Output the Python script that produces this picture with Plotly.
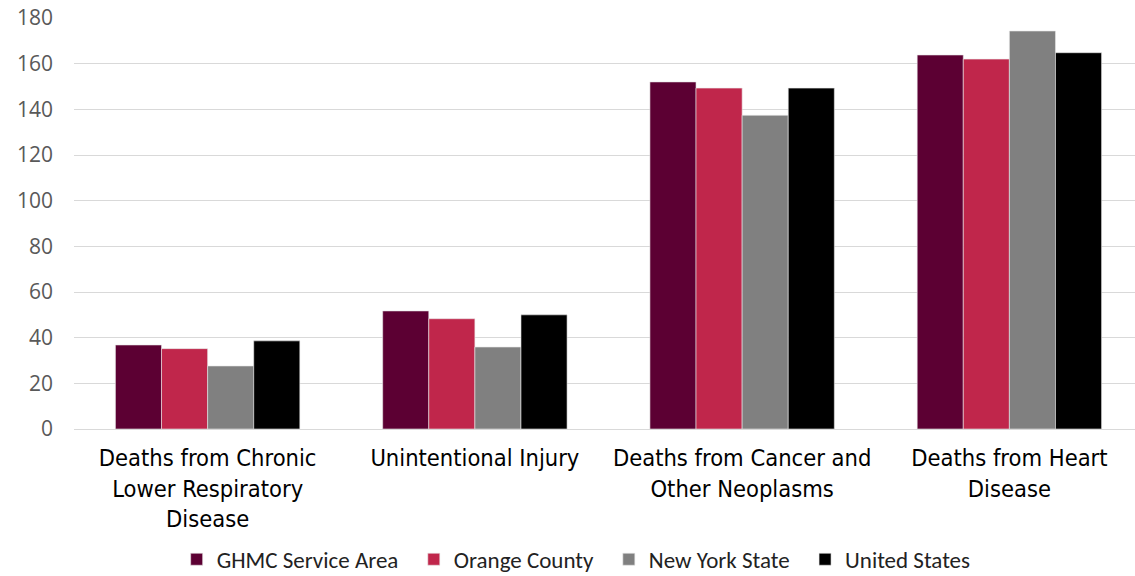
import plotly.graph_objects as go

categories = [
    "Deaths from Chronic<br>Lower Respiratory<br>Disease",
    "Unintentional Injury",
    "Deaths from Cancer and<br>Other Neoplasms",
    "Deaths from Heart<br>Disease",
]
ghmc = [36.8, 51.7, 152.0, 163.8]
orange = [35.2, 48.3, 149.3, 162.0]
nys = [27.6, 35.9, 137.4, 174.3]
usa = [38.6, 50.0, 149.3, 164.8]

series = [
    ("GHMC Service Area", ghmc, "#5C0033"),
    ("Orange County", orange, "#C0264B"),
    ("New York State", nys, "#808080"),
    ("United States", usa, "#000000"),
]

fig = go.Figure()
for name, vals, color in series:
    fig.add_trace(go.Bar(x=categories, y=vals, name=name + "&nbsp;&nbsp;",
                         marker=dict(color=color, line=dict(color="#e8e8e8", width=0.6))))

fig.update_layout(
    width=1135, height=576,
    margin=dict(l=74, r=0, t=18, b=147, autoexpand=False),
    barmode="group", bargap=0.31, bargroupgap=0,
    plot_bgcolor="white", paper_bgcolor="white",
    legend=dict(orientation="h", x=0.478, xanchor="center", y=-0.317, yanchor="middle",
                font=dict(family="Carlito, Calibri, 'Open Sans', sans-serif", size=23, color="#222"),
                itemwidth=30, traceorder="normal"),
    showlegend=True,
)
fig.update_xaxes(range=[-0.5, 3.47], automargin=False,
                 tickfont=dict(family="'DejaVu Sans Condensed', 'Liberation Sans Narrow', Arial, sans-serif",
                               size=23.5, color="#000"),
                 showline=True, linecolor="#d9d9d9", linewidth=1, ticks="", ticklabelstandoff=8)
fig.update_yaxes(range=[0, 180], dtick=20, showgrid=True, gridcolor="#d9d9d9", gridwidth=1,
                 zeroline=False, automargin=False, ticklabeloverflow="allow",
                 tickfont=dict(family="'Open Sans', sans-serif", size=21, color="#595959"),
                 ticklabelstandoff=20)

# drop the default 8px page margin so the figure sits at the window corner
fig.write_html("out.html", config={"displayModeBar": False},
               post_script="document.body.style.margin='0';")
